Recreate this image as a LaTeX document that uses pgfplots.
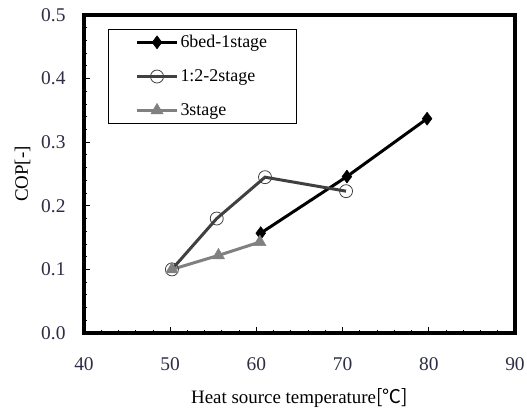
\documentclass[border=0pt]{standalone}
\usepackage{pgfplots}
\pgfplotsset{compat=1.18}
\usepackage{fontspec}
\setmainfont{Liberation Serif}
\newfontfamily\cjk{Noto Sans CJK JP}
\definecolor{dgray}{RGB}{64,64,64}
\definecolor{mgray}{RGB}{128,128,128}
\definecolor{tickc}{RGB}{45,45,70}
\begin{document}
\begin{tikzpicture}
\begin{axis}[
  name=ax, at={(0,0)}, anchor=south west,
  scale only axis, width=431bp, height=318bp,
  xmin=40, xmax=90, ymin=0, ymax=0.5,
  xtick={40,50,...,90}, ytick={0,0.1,...,0.5},
  minor x tick num=4, minor y tick num=4,
  tick align=inside, xtick pos=bottom, ytick pos=left,
  major tick length=6bp, minor tick length=3.5bp,
  tick style={black, line width=0.9pt},
  /pgf/number format/assume math mode=true,
  yticklabel style={/pgf/number format/fixed, /pgf/number format/fixed zerofill, /pgf/number format/precision=1},
  ticklabel style={font=\fontsize{19.5}{21}\selectfont, text=tickc},
  xticklabel style={yshift=-21bp},
  yticklabel style={xshift=-15bp},
  xlabel={Heat source temperature{\cjk[℃]}},
  ylabel={COP[-]},
  label style={font=\fontsize{19}{21}\selectfont},
  xlabel style={yshift=-11bp},
  ylabel style={yshift=4bp},
  legend style={at={(rel axis cs:0.056,0.956)}, anchor=north west, draw=black, line width=0.8pt,
    font=\fontsize{18}{20}\selectfont, legend cell align=left},
  every axis legend/.append style={inner xsep=27bp, inner ysep=4bp, row sep=16.5bp, nodes={inner xsep=2bp, inner ysep=2bp}},
  legend image code/.code={\draw[mark repeat=2, mark phase=2, #1] plot coordinates {(0bp,0bp) (20bp,0bp) (40bp,0bp)};},
]
\addplot[black, line width=3pt, mark=diamond*, mark size=6.5bp, mark options={solid, fill=black, line width=0.5pt}]
  coordinates {(60.5,0.157) (70.5,0.246) (79.8,0.337)};
\addlegendentry{6bed-1stage}
\addplot[dgray, line width=3pt, mark=o, mark size=6.5bp, mark options={solid, draw=dgray, line width=0.8pt}]
  coordinates {(50.2,0.100) (55.4,0.180) (61.0,0.245) (70.4,0.223)};
\addlegendentry{1:2-2stage}
\addplot[mgray, line width=3pt, mark=triangle*, mark size=7bp, mark options={solid, fill=mgray, draw=mgray, line width=0.5pt}]
  coordinates {(50.2,0.100) (55.6,0.122) (60.4,0.143)};
\addlegendentry{3stage}
\end{axis}
\draw[line width=4bp] (ax.south west) rectangle (ax.north east);
\pgfresetboundingbox
\path[use as bounding box] (-84bp,-77bp) rectangle (443bp,333bp);
\end{tikzpicture}
\end{document}
